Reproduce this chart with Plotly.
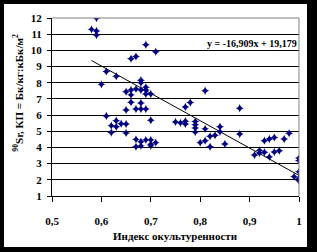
import plotly.graph_objects as go

# Data
x_vals = [0.58, 0.59, 0.59, 0.59, 0.60,
          0.61, 0.61, 0.62, 0.62, 0.63, 0.63, 0.63, 0.64,
          0.65, 0.65, 0.65, 0.65,
          0.66, 0.66, 0.66, 0.66,
          0.67, 0.67, 0.67, 0.67, 0.67,
          0.68, 0.68, 0.68, 0.68, 0.68, 0.68, 0.68,
          0.69, 0.69, 0.69, 0.69, 0.69, 0.69,
          0.70, 0.70, 0.70, 0.70, 0.70,
          0.71, 0.71,
          0.75, 0.76, 0.77, 0.77, 0.77, 0.78,
          0.79, 0.79, 0.79, 0.79,
          0.80, 0.81, 0.81, 0.81, 0.82, 0.82, 0.83, 0.84, 0.84, 0.85,
          0.88, 0.88,
          0.91, 0.92, 0.92, 0.93, 0.93, 0.94, 0.94, 0.95, 0.95, 0.96, 0.97, 0.98,
          0.99, 1.00, 1.00, 1.00, 1.00, 1.00]
y_vals = [11.3, 12.0, 11.2, 10.95, 7.9,
          8.7, 5.95, 5.35, 4.92, 8.4, 5.65, 5.28, 5.47,
          7.45, 6.32, 5.45, 4.9,
          9.48, 7.55, 7.25, 6.8,
          9.62, 7.62, 6.38, 4.5, 4.05,
          8.15, 8.0, 7.55, 6.75, 6.38, 4.35, 4.1,
          10.35, 7.72, 7.55, 7.3, 6.38, 4.47,
          7.3, 5.68, 4.47, 4.2, 4.1,
          9.92, 4.3,
          5.58, 5.52, 5.62, 5.45, 6.5, 6.78,
          5.6, 5.4, 5.2, 4.95,
          4.3, 7.5, 5.15, 4.42, 4.7, 4.05, 4.75, 5.28, 4.97, 4.22,
          6.42, 4.83,
          3.53, 3.82, 3.65, 4.42, 3.7, 4.52, 3.42, 4.62, 3.72, 3.8, 4.52, 4.88,
          2.2, 3.35, 3.2, 2.5, 2.1, 1.95]

slope = -16.909
intercept = 19.179
trend_x = [min(x_vals), max(x_vals)]
trend_y = [slope * v + intercept for v in trend_x]

x_ticks = [0.5, 0.6, 0.7, 0.8, 0.9, 1.0]
x_tick_text = ["0,5", "0,6", "0,7", "0,8", "0,9", "1"]
y_ticks = list(range(1, 13))

equation_text = "y = -16,909x + 19,179"
x_title = "Индекс окультуренности"
y_title = "<sup>90</sup>Sr, КП = Бк/кг:кБк/м<sup>2</sup>"

font_family = "Liberation Serif"
bold_font = dict(family=font_family, size=11, color="black", weight="bold")
eq_font = dict(family=font_family, size=10, color="black", weight="bold")

fig = go.Figure()
fig.add_trace(go.Scatter(
    x=trend_x, y=trend_y, mode="lines",
    line=dict(color="black", width=1), hoverinfo="skip", showlegend=False))
fig.add_trace(go.Scatter(
    x=x_vals, y=y_vals, mode="markers",
    marker=dict(symbol="star-diamond", size=6, color="#000080",
                line=dict(width=0)),
    showlegend=False))

fig.update_layout(
    width=317, height=252,
    margin=dict(l=52, r=18, t=18, b=56),
    paper_bgcolor="black",
    plot_bgcolor="white",
    font=bold_font,
    separators=", ",
    xaxis=dict(
        range=[0.5, 1.0], tickvals=x_ticks, ticktext=x_tick_text,
        showgrid=False, zeroline=False,
        showline=True, linecolor="black", linewidth=1,
        ticks="outside", ticklen=5, tickcolor="black", tickwidth=1,
        ticklabelstandoff=10,
        tickfont=bold_font,
    ),
    yaxis=dict(
        range=[1, 12], tickvals=y_ticks,
        showgrid=True, gridcolor="black", gridwidth=1, zeroline=False,
        showline=True, linecolor="black", linewidth=1,
        ticks="outside", ticklen=4, tickcolor="black", tickwidth=1,
        ticklabelstandoff=3,
        tickfont=bold_font,
    ),
    shapes=[
        dict(type="rect", xref="paper", yref="paper",
             x0=-0.1943, x1=1.0324, y0=-0.2865, y1=1.0787,
             fillcolor="white", line=dict(width=0), layer="below"),
        dict(type="line", xref="paper", yref="paper",
             x0=0, x1=1, y0=1, y1=1,
             line=dict(color="#808080", width=1), layer="above"),
        dict(type="line", xref="paper", yref="paper",
             x0=1, x1=1, y0=0, y1=1,
             line=dict(color="#808080", width=1), layer="above"),
    ],
    annotations=[
        dict(text=equation_text, xref="x", yref="y",
             x=0.999, y=10.45, xanchor="right", yanchor="middle",
             showarrow=False, font=eq_font),
        dict(text=x_title, xref="paper", yref="paper",
             x=0.5, y=-0.225, xanchor="center", yanchor="middle",
             showarrow=False, font=bold_font),
        dict(text=y_title, xref="paper", yref="paper",
             x=-0.138, y=0.58, xanchor="center", yanchor="middle",
             textangle=-90, showarrow=False, font=bold_font),
    ],
)

fig.write_html("out.html")
